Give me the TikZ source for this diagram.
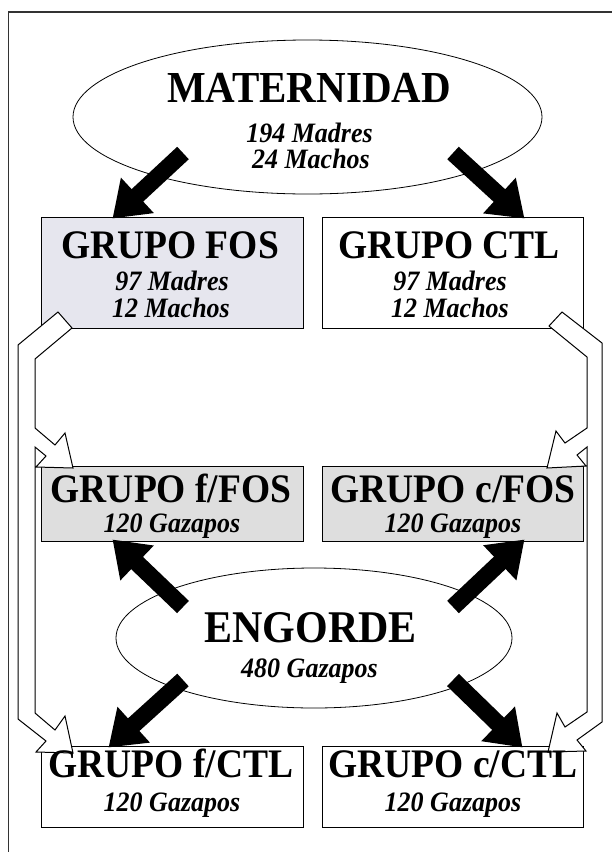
\documentclass[tikz,border=0pt]{standalone}
\usepackage{fontspec}
\setmainfont{Liberation Serif}
\usetikzlibrary{shapes.geometric,arrows.meta,calc}
\definecolor{fosfill}{RGB}{230,230,238}
\definecolor{grayfill}{RGB}{222,222,222}
\newcommand{\tall}[1]{\scalebox{1}[1.08]{#1}}
\begin{document}
\begin{tikzpicture}[x=1pt,y=-1pt,
  bigtitle/.style={font=\bfseries\fontsize{41}{41}\selectfont, inner sep=0, anchor=base},
  grptitle/.style={font=\bfseries\fontsize{37.5}{37.5}\selectfont, inner sep=0, anchor=base},
  subtext/.style={font=\bfseries\itshape\fontsize{26}{26}\selectfont, inner sep=0, anchor=base},
  oval/.style={ellipse, draw, line width=0.8pt, fill=white, inner sep=0},
  grpbox/.style={draw, line width=1pt, inner sep=0},
  hollow/.style={draw, line width=1pt, fill=white, line join=miter},
  fat/.style={line width=17pt, -{Triangle[width=46pt,length=34pt]}}
]
\useasboundingbox (0,0) rectangle (612,852);
\draw[line width=1.2pt, black!80] (612,12) -- (8.6,12) -- (8.6,852);

% ellipses
\node[oval, minimum width=469pt, minimum height=154pt] (mat) at (307.5,117) {};
\node[oval, minimum width=396pt, minimum height=140pt] (eng) at (314,638) {};

% boxes
\node[grpbox, fill=fosfill, minimum width=262pt, minimum height=111pt] (fos) at (172,272.5) {};
\node[grpbox, fill=white, minimum width=261pt, minimum height=111pt] (ctl) at (452.5,272.5) {};
\node[grpbox, fill=grayfill, minimum width=262pt, minimum height=75pt] (ffos) at (172,503.5) {};
\node[grpbox, fill=grayfill, minimum width=261pt, minimum height=75pt] (cfos) at (452.5,503.5) {};
\node[grpbox, fill=white, minimum width=262pt, minimum height=81pt] (fctl) at (172,786.5) {};
\node[grpbox, fill=white, minimum width=261pt, minimum height=81pt] (cctl) at (452.5,786.5) {};

% hollow branching arrows
\draw[hollow] (58,312) -- (72,328) -- (35,359) -- (35,428) -- (55,445) -- (65,433)
  -- (73,468) -- (36,467) -- (46,456) -- (35,447) -- (35,713) -- (55,730) -- (65,716)
  -- (73,753) -- (36,752) -- (46,741) -- (18,719) -- (18,345) -- cycle;
\draw[hollow] (562,312) -- (549,326) -- (587,357) -- (587,428) -- (565,443) -- (556,431)
  -- (547,468) -- (586,466) -- (577,455) -- (587,447) -- (587,712) -- (565,727) -- (557,713)
  -- (548,752) -- (586,751) -- (577,740) -- (602,722) -- (602,343) -- cycle;

% black arrows
\coordinate (t1) at (183,153);
\coordinate (t2) at (453,153);
\coordinate (t3) at (183,607);
\coordinate (t4) at (453,607);
\coordinate (t5) at (183,680);
\coordinate (t6) at (453,680);
\draw[fat] (t1) -- ($(fos.north west)+(72,2)$);
\draw[fat] (t2) -- ($(ctl.north west)+(203,2)$);
\draw[fat] (t3) -- ($(ffos.south west)+(72,-2)$);
\draw[fat] (t4) -- ($(cfos.south west)+(203,-2)$);
\draw[fat] (t5) -- ($(fctl.north west)+(68,2)$);
\draw[fat] (t6) -- ($(cctl.north west)+(201,2)$);

% texts
\node[bigtitle] (matT) at (309,102) {\tall{MATERNIDAD}};
\node[subtext] (matA) at (309.5,142) {\tall{194 Madres}};
\node[subtext] (matB) at (311,168) {\tall{24 Machos}};
\node[bigtitle, font=\bfseries\fontsize{42}{42}\selectfont] (engT) at (310.5,642) {\tall{ENGORDE}};
\node[subtext] (engA) at (309.5,677) {\tall{480 Gazapos}};

\node[grptitle] (fosT) at (170,258) {\tall{GRUPO FOS}};
\node[subtext] (fosA) at (172,290) {\tall{97 Madres}};
\node[subtext] (fosB) at (171,317) {\tall{12 Machos}};
\node[grptitle] (ctlT) at (449,258) {\tall{GRUPO CTL}};
\node[subtext] (ctlA) at (450,290) {\tall{97 Madres}};
\node[subtext] (ctlB) at (450,317) {\tall{12 Machos}};

\node[grptitle] (ffosT) at (171,502) {\tall{GRUPO f/FOS}};
\node[subtext] (ffosA) at (172,532) {\tall{120 Gazapos}};
\node[grptitle] (cfosT) at (453,502) {\tall{GRUPO c/FOS}};
\node[subtext] (cfosA) at (453,532) {\tall{120 Gazapos}};

\node[grptitle] (fctlT) at (171,777) {\tall{GRUPO f/CTL}};
\node[subtext] (fctlA) at (172,811) {\tall{120 Gazapos}};
\node[grptitle] (cctlT) at (453,777) {\tall{GRUPO c/CTL}};
\node[subtext] (cctlA) at (453,811) {\tall{120 Gazapos}};
\end{tikzpicture}
\end{document}
